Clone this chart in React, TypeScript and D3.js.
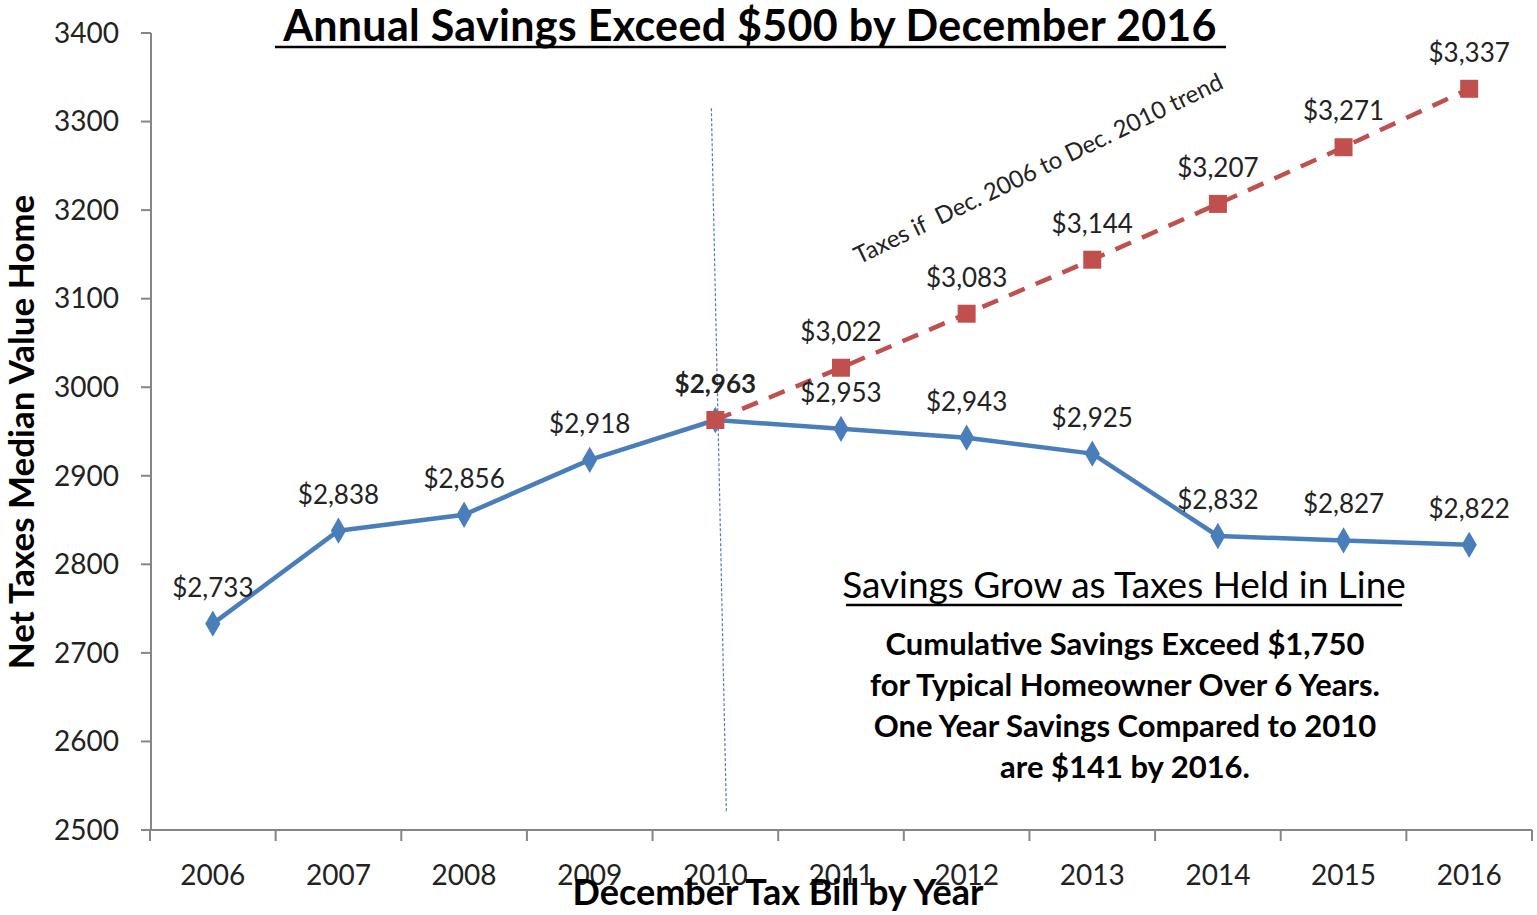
import React from "react";
import * as d3 from "d3";

const years = ["2006", "2007", "2008", "2009", "2010", "2011", "2012", "2013", "2014", "2015", "2016"];
const actualTaxes = [2733, 2838, 2856, 2918, 2963, 2953, 2943, 2925, 2832, 2827, 2822];
const trendYears = ["2010", "2011", "2012", "2013", "2014", "2015", "2016"];
const trendTaxes = [2963, 3022, 3083, 3144, 3207, 3271, 3337];
const yTicks = [2500, 2600, 2700, 2800, 2900, 3000, 3100, 3200, 3300, 3400];
const noteLines = [
  "Cumulative Savings Exceed $1,750",
  "for Typical Homeowner Over 6 Years.",
  "One Year Savings Compared to 2010",
  "are $141 by 2016.",
];

const W = 1537;
const H = 915;
const FONT = "Lato, 'Open Sans', sans-serif";
const BLUE = "#4A7EBB";
const RED = "#C0504D";
const AXIS = "#868686";

const fmt = (v: number) => "$" + d3.format(",")(v);

export default function App() {
  const x = d3.scaleBand<string>().domain(years).range([150, 1532]);
  const bw = x.bandwidth();
  const xc = (yr: string) => (x(yr) as number) + bw / 2;
  const y = d3.scaleLinear().domain([2500, 3400]).range([830, 33]);

  const line = d3
    .line<[string, number]>()
    .x((d) => xc(d[0]))
    .y((d) => y(d[1]));

  const actual: [string, number][] = years.map((yr, i) => [yr, actualTaxes[i]]);
  const trend: [string, number][] = trendYears.map((yr, i) => [yr, trendTaxes[i]]);

  const diamond = d3.symbol().type(d3.symbolDiamond).size(200)() as string;

  return (
    <svg
      width={W}
      height={H}
      style={{ position: "absolute", left: 0, top: 0, background: "#fff" }}
      fontFamily={FONT}
    >
      <rect width={W} height={H} fill="#fff" />
      {/* Title */}
      <text x={750} y={41} textAnchor="middle" fontSize={43} fontWeight={700} fill="#000" letterSpacing={0.3}>
        Annual Savings Exceed $500 by December 2016
      </text>
      <line x1={275} x2={1226} y1={47} y2={47} stroke="#000" strokeWidth={2.5} />

      {/* Y axis */}
      <line x1={151} x2={151} y1={y(3400)} y2={y(2500)} stroke={AXIS} strokeWidth={2} />
      {yTicks.map((t) => (
        <g key={t}>
          <line x1={141} x2={151} y1={y(t)} y2={y(t)} stroke={AXIS} strokeWidth={2} />
          <text x={119} y={y(t)} dy="0.35em" textAnchor="end" fontSize={28} fill="#222">
            {t}
          </text>
        </g>
      ))}
      <text
        transform={`translate(34,${432}) rotate(-90)`}
        textAnchor="middle"
        fontSize={35}
        fontWeight={700}
        fill="#000"
      >
        Net Taxes Median Value Home
      </text>

      {/* X axis */}
      <line x1={150} x2={1532} y1={y(2500)} y2={y(2500)} stroke={AXIS} strokeWidth={2} />
      {years.map((yr) => (
        <line
          key={"t" + yr}
          x1={x(yr) as number}
          x2={x(yr) as number}
          y1={y(2500)}
          y2={y(2500) + 11}
          stroke={AXIS}
          strokeWidth={2}
        />
      ))}
      <line x1={1532} x2={1532} y1={y(2500)} y2={y(2500) + 11} stroke={AXIS} strokeWidth={2} />
      {years.map((yr) => (
        <text key={"l" + yr} x={xc(yr)} y={885} textAnchor="middle" fontSize={28} fill="#222">
          {yr}
        </text>
      ))}

      {/* vertical dashed marker at 2010 */}
      <line
        x1={xc("2010") - 4}
        y1={y(3315)}
        x2={xc("2010") + 11}
        y2={y(2520)}
        stroke={BLUE}
        strokeWidth={1.2}
        strokeDasharray="3,2"
      />

      {/* Actual line */}
      <path d={line(actual) as string} fill="none" stroke={BLUE} strokeWidth={4.5} strokeLinejoin="round" />
      {actual.map(([yr, v]) => (
        <path key={"d" + yr} d={diamond} transform={`translate(${xc(yr)},${y(v)})`} fill={BLUE} />
      ))}

      {/* Trend line */}
      <path
        d={line(trend) as string}
        fill="none"
        stroke={RED}
        strokeWidth={4.5}
        strokeDasharray="17,12"
      />
      {trend.map(([yr, v]) => (
        <rect key={"s" + yr} x={xc(yr) - 9} y={y(v) - 9} width={18} height={18} fill={RED} />
      ))}

      {/* Labels */}
      {actual.map(([yr, v]) => (
        <text
          key={"al" + yr}
          x={xc(yr)}
          y={y(v) - 27}
          textAnchor="middle"
          fontSize={26}
          fill="#222"
          fontWeight={yr === "2010" ? 700 : 400}
        >
          {fmt(v)}
        </text>
      ))}
      {trend.slice(1).map(([yr, v]) => (
        <text key={"tl" + yr} x={xc(yr)} y={y(v) - 27} textAnchor="middle" fontSize={26} fill="#222">
          {fmt(v)}
        </text>
      ))}

      {/* Rotated trend annotation */}
      <text
        transform={`translate(1042,${176}) rotate(-25.8)`}
        textAnchor="middle"
        fontSize={24}
        fill="#222"
        style={{ whiteSpace: "pre" }}
      >
        {"Taxes if  Dec. 2006 to Dec. 2010 trend"}
      </text>

      {/* Note box */}
      <text x={1124} y={598} textAnchor="middle" fontSize={37} fontWeight={400} fill="#000">
        Savings Grow as Taxes Held in Line
      </text>
      <line x1={846} x2={1402} y1={605} y2={605} stroke="#000" strokeWidth={2.5} />
      {noteLines.map((s, i) => (
        <text
          key={s}
          x={1125}
          y={655 + i * 41}
          textAnchor="middle"
          fontSize={31}
          fontWeight={700}
          fill="#000"
        >
          {s}
        </text>
      ))}

      {/* X title */}
      <text x={778} y={905} textAnchor="middle" fontSize={36} fontWeight={700} fill="#000">
        December Tax Bill by Year
      </text>
    </svg>
  );
}
